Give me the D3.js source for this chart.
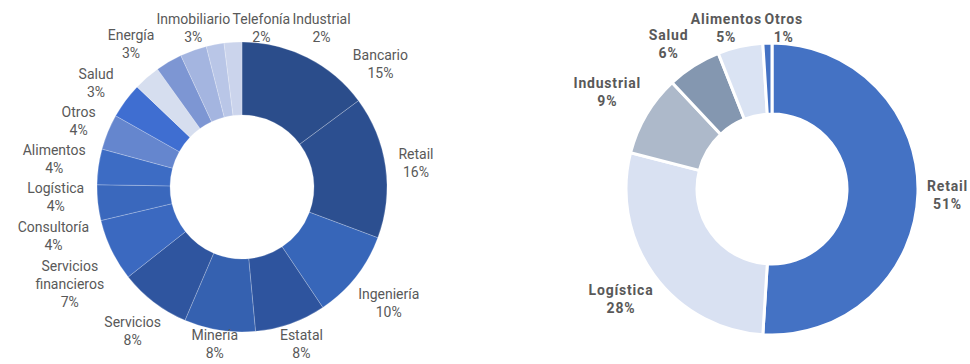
<!DOCTYPE html>
<html>
<head>
<meta charset="utf-8">
<script src="https://cdn.jsdelivr.net/npm/d3@7"></script>
<style>
  html,body{margin:0;padding:0;background:#fff;}
  svg{display:block;}
</style>
</head>
<body>
<div id="chart"></div>
<script>
// datos: sectores (izquierda)
var sectorCategories=["Bancario","Retail","Ingeniería","Estatal","Minería","Servicios","Servicios financieros","Consultoría","Logística","Alimentos","Otros","Salud","Energía","Inmobiliario","Telefonía","Industrial"];
var sectorValues=[15,16,10,8,8,8,7,4,4,4,4,3,3,3,2,2];
var sectorLabelLines=[["Bancario"],["Retail"],["Ingeniería"],["Estatal"],["Minería"],["Servicios"],["Servicios","financieros"],["Consultoría"],["Logística"],["Alimentos"],["Otros"],["Salud"],["Energía"],["Inmobiliario"],["Telefonía"],["Industrial"]];
var sectorColors=["#2b4d8b","#2c4f90","#3766b9","#2e549e","#3561b0","#2f559f","#3b69c0","#3a68bd","#3d6cc4","#6586ce","#3f6ed1","#d6deef","#7d96d3","#a4b5e0","#b9c6e7","#cbd4ec"];

// datos: rubros (derecha)
var rubroCategories=["Retail","Logística","Industrial","Salud","Alimentos","Otros"];
var rubroValues=[51,28,9,6,5,1];
var rubroColors=["#4472c4","#d9e1f2","#adb9ca","#8497b0","#dae3f3","#4472c4"];

var width=970,height=364;
var svg=d3.select("#chart").append("svg")
          .attr("width",width)
          .attr("height",height);

function drawDonut(opt){
  var g=svg.append("g").attr("transform","translate("+opt.cx+","+opt.cy+")");
  var pie=d3.pie().sort(null).value(function(d){return d;});
  var arcs=pie(opt.values);
  var arc=d3.arc().innerRadius(opt.inner).outerRadius(opt.outer);

  g.selectAll("path").data(arcs).enter().append("path")
    .attr("d",arc)
    .attr("fill",function(d,i){return opt.colors[i];})
    .attr("stroke",opt.stroke)
    .attr("stroke-width",opt.strokeWidth);

  // etiquetas
  var labels=g.selectAll("text.lbl").data(arcs).enter().append("text")
    .attr("class","lbl")
    .attr("text-anchor","middle")
    .style("font-family",opt.font)
    .style("font-size",opt.fontSize+"px")
    .style("font-weight",opt.fontWeight)
    .style("letter-spacing",opt.letterSpacing+"px")
    .attr("fill",opt.textColor);

  labels.each(function(d,i){
    var lines=opt.lines[i].concat([opt.values[i]+"%"]);
    var t=d3.select(this);
    lines.forEach(function(s){
      t.append("tspan").attr("x",0).attr("dominant-baseline","central").text(s);
    });
  });

  // medir cajas
  var boxes=[];
  labels.each(function(d,i){
    var w=0;
    d3.select(this).selectAll("tspan").each(function(){w=Math.max(w,this.getComputedTextLength());});
    var n=opt.lines[i].length+1;
    boxes.push({w:w,h:n*opt.lineHeight,n:n});
  });

  // límites del área del gráfico (coordenadas locales)
  var top=opt.top-opt.cy,bottom=opt.bottom-opt.cy,left=opt.left-opt.cx,right=opt.right-opt.cx;

  function place(a,b){
    var ux=Math.sin(a),uy=-Math.cos(a);
    var tx=Math.abs(ux)>1e-6?(b.w/2)/Math.abs(ux):Infinity;
    var ty=Math.abs(uy)>1e-6?(b.h/2)/Math.abs(uy):Infinity;
    var r=opt.outer+opt.gap+Math.min(tx,ty);
    var x=ux*r,y=uy*r;
    if(y-b.h/2<top)y=top+b.h/2;
    if(y+b.h/2>bottom)y=bottom-b.h/2;
    if(x-b.w/2<left)x=left+b.w/2;
    if(x+b.w/2>right)x=right-b.w/2;
    return [x,y];
  }

  // separar etiquetas que se tocan, moviéndolas sobre el círculo
  var angles=arcs.map(function(d){return (d.startAngle+d.endAngle)/2;});
  var n=angles.length,step=0.003,pad=opt.pad;
  function overlap(i,j){
    var p=place(angles[i],boxes[i]),q=place(angles[j],boxes[j]);
    return Math.abs(p[0]-q[0])<(boxes[i].w+boxes[j].w)/2+pad &&
           Math.abs(p[1]-q[1])<(boxes[i].h+boxes[j].h)/2+pad;
  }
  for(var it=0;it<3000;it++){
    var moved=false;
    for(var i=0;i<n;i++){
      for(var k=1;k<=3;k++){
        var j=(i+k)%n;
        if(j===i)continue;
        if(overlap(i,j)){
          angles[i]-=step;
          angles[j]+=step;
          moved=true;
        }
      }
    }
    if(!moved)break;
  }

  labels.each(function(d,i){
    var p=place(angles[i],boxes[i]);
    var b=boxes[i];
    d3.select(this).selectAll("tspan")
      .attr("x",p[0])
      .attr("y",function(s,k){return p[1]-(b.n-1)*opt.lineHeight/2+k*opt.lineHeight;});
  });
}

drawDonut({
  cx:242,cy:187,inner:72,outer:145,
  values:sectorValues,lines:sectorLabelLines,colors:sectorColors,
  stroke:"rgba(255,255,255,0.22)",strokeWidth:1,
  font:"Roboto, 'Noto Sans', sans-serif",fontSize:14,fontWeight:400,letterSpacing:0,
  textColor:"#595959",lineHeight:18,gap:13,pad:2,
  top:10,bottom:362,left:6,right:480
});

drawDonut({
  cx:772,cy:189,inner:75,outer:146,
  values:rubroValues,lines:rubroCategories.map(function(c){return [c];}),colors:rubroColors,
  stroke:"#ffffff",strokeWidth:3,
  font:"Roboto, 'Noto Sans', sans-serif",fontSize:14,fontWeight:700,letterSpacing:0.8,
  textColor:"#595959",lineHeight:18,gap:10,pad:2,
  top:10,bottom:362,left:500,right:968
});
</script>
</body>
</html>
